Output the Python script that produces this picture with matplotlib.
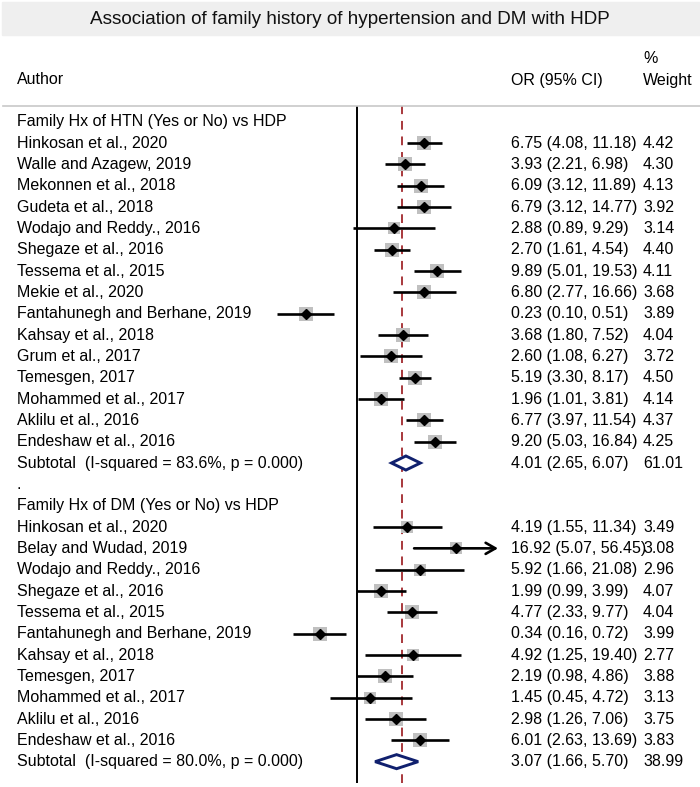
import numpy as np
import matplotlib.pyplot as plt
from matplotlib.patches import Rectangle
from matplotlib.lines import Line2D
from matplotlib.transforms import blended_transform_factory

plt.rcParams['font.family'] = ['Liberation Sans', 'DejaVu Sans']

title = 'Association of family history of hypertension and DM with HDP'

htn_label = 'Family Hx of HTN (Yes or No) vs HDP'
htn_authors = ['Hinkosan et al., 2020', 'Walle and Azagew, 2019', 'Mekonnen et al., 2018',
               'Gudeta et al., 2018', 'Wodajo and Reddy., 2016', 'Shegaze et al., 2016',
               'Tessema et al., 2015', 'Mekie et al., 2020', 'Fantahunegh and Berhane, 2019',
               'Kahsay et al., 2018', 'Grum et al., 2017', 'Temesgen, 2017',
               'Mohammed et al., 2017', 'Aklilu et al., 2016', 'Endeshaw et al., 2016']
htn_or = [6.75, 3.93, 6.09, 6.79, 2.88, 2.70, 9.89, 6.80, 0.23, 3.68, 2.60, 5.19, 1.96, 6.77, 9.20]
htn_lo = [4.08, 2.21, 3.12, 3.12, 0.89, 1.61, 5.01, 2.77, 0.10, 1.80, 1.08, 3.30, 1.01, 3.97, 5.03]
htn_hi = [11.18, 6.98, 11.89, 14.77, 9.29, 4.54, 19.53, 16.66, 0.51, 7.52, 6.27, 8.17, 3.81, 11.54, 16.84]
htn_wt = [4.42, 4.30, 4.13, 3.92, 3.14, 4.40, 4.11, 3.68, 3.89, 4.04, 3.72, 4.50, 4.14, 4.37, 4.25]
htn_sub = [4.01, 2.65, 6.07]
htn_sub_wt = 61.01
htn_i2 = 83.6

dm_label = 'Family Hx of DM (Yes or No) vs HDP'
dm_authors = ['Hinkosan et al., 2020', 'Belay and Wudad, 2019', 'Wodajo and Reddy., 2016',
              'Shegaze et al., 2016', 'Tessema et al., 2015', 'Fantahunegh and Berhane, 2019',
              'Kahsay et al., 2018', 'Temesgen, 2017', 'Mohammed et al., 2017',
              'Aklilu et al., 2016', 'Endeshaw et al., 2016']
dm_or = [4.19, 16.92, 5.92, 1.99, 4.77, 0.34, 4.92, 2.19, 1.45, 2.98, 6.01]
dm_lo = [1.55, 5.07, 1.66, 0.99, 2.33, 0.16, 1.25, 0.98, 0.45, 1.26, 2.63]
dm_hi = [11.34, 56.45, 21.08, 3.99, 9.77, 0.72, 19.40, 4.86, 4.72, 7.06, 13.69]
dm_wt = [3.49, 3.08, 2.96, 4.07, 4.04, 3.99, 2.77, 3.88, 3.13, 3.75, 3.83]
dm_sub = [3.07, 1.66, 5.70]
dm_sub_wt = 38.99
dm_i2 = 80.0

overall_or = 3.57
xmax = 56.0

W, H = 700, 787
fig = plt.figure(figsize=(7, 7.87), dpi=100)


def fx(px):
    return px / W


def fy(py):
    return 1 - py / H


# plot area in pixels: x 216.8..498, y 106..783
ax = fig.add_axes([fx(216.8), fy(783), fx(498) - fx(216.8), fy(106) - fy(783)])
ax.set_xscale('log')
ax.set_xlim(1 / xmax, xmax)
ax.set_ylim(31.0, -0.736)
ax.axis('off')

tr = blended_transform_factory(fig.transFigure, ax.transData)
fs = 11.5
x_author, x_or, x_wt = fx(17), fx(511), fx(643)

# title band
fig.patches.append(Rectangle((fx(2), fy(35)), fx(700) - fx(2), fy(2) - fy(35),
                             transform=fig.transFigure, color='#efefef', zorder=0))
fig.text(0.5, fy(19), title, ha='center', va='center', fontsize=13.6, color='#111111')

# column headers
fig.text(x_author, fy(80), 'Author', ha='left', va='center', fontsize=fs)
fig.text(x_or, fy(80), 'OR (95% CI)', ha='left', va='center', fontsize=fs)
fig.text(x_wt, fy(80), 'Weight', ha='left', va='center', fontsize=fs)
fig.text(x_wt, fy(58.5), '%', ha='left', va='center', fontsize=fs)
fig.add_artist(Line2D([fx(3), fx(700)], [fy(106), fy(106)], color='#c8c8c8', lw=1.2))

ax.axvline(1, color='black', lw=1.4, zorder=1)
ax.axvline(overall_or, color='#a8383c', lw=1.4, ls=(0, (4.5, 3.5)), zorder=1)


def draw_group(r, label, authors, ors, los, his, wts, sub, sub_wt, i2):
    ax.text(x_author, r, label, transform=tr, ha='left', va='center', fontsize=fs)
    r += 1
    for a, o, lo, hi, w in zip(authors, ors, los, his, wts):
        ax.text(x_author, r, a, transform=tr, ha='left', va='center', fontsize=fs)
        ax.text(x_or, r, f'{o:.2f} ({lo:.2f}, {hi:.2f})', transform=tr,
                ha='left', va='center', fontsize=fs)
        ax.text(x_wt, r, f'{w:.2f}', transform=tr, ha='left', va='center', fontsize=fs)
        ax.scatter([o], [r], marker='s', s=24 * w, color='#c0c0c0', lw=0, zorder=2)
        if hi > xmax:
            ax.annotate('', xy=(xmax, r), xytext=(lo, r), annotation_clip=False,
                        arrowprops=dict(arrowstyle='->,head_length=0.7,head_width=0.4',
                                        lw=1.9, color='black', shrinkA=0, shrinkB=0,
                                        mutation_scale=10), zorder=3)
        else:
            ax.plot([lo, hi], [r, r], color='black', lw=1.9, solid_capstyle='butt', zorder=3)
        ax.plot([o], [r], marker='D', ms=5.5, color='black', zorder=4)
        r += 1
    est, lo, hi = sub
    ax.text(x_author, r, f'Subtotal  (I-squared = {i2:.1f}%, p = 0.000)', transform=tr,
            ha='left', va='center', fontsize=fs)
    ax.text(x_or, r, f'{est:.2f} ({lo:.2f}, {hi:.2f})', transform=tr,
            ha='left', va='center', fontsize=fs)
    ax.text(x_wt, r, f'{sub_wt:.2f}', transform=tr, ha='left', va='center', fontsize=fs)
    ax.fill([lo, est, hi, est, lo], [r, r - 0.33, r, r + 0.33, r], facecolor='white',
            edgecolor='#10206e', lw=2.1, zorder=4)
    return r + 1


r = draw_group(0, htn_label, htn_authors, htn_or, htn_lo, htn_hi, htn_wt,
               htn_sub, htn_sub_wt, htn_i2)
ax.text(x_author, r, '.', transform=tr, ha='left', va='center', fontsize=fs)
draw_group(r + 1, dm_label, dm_authors, dm_or, dm_lo, dm_hi, dm_wt,
           dm_sub, dm_sub_wt, dm_i2)

fig.savefig('out.png', dpi=100)
